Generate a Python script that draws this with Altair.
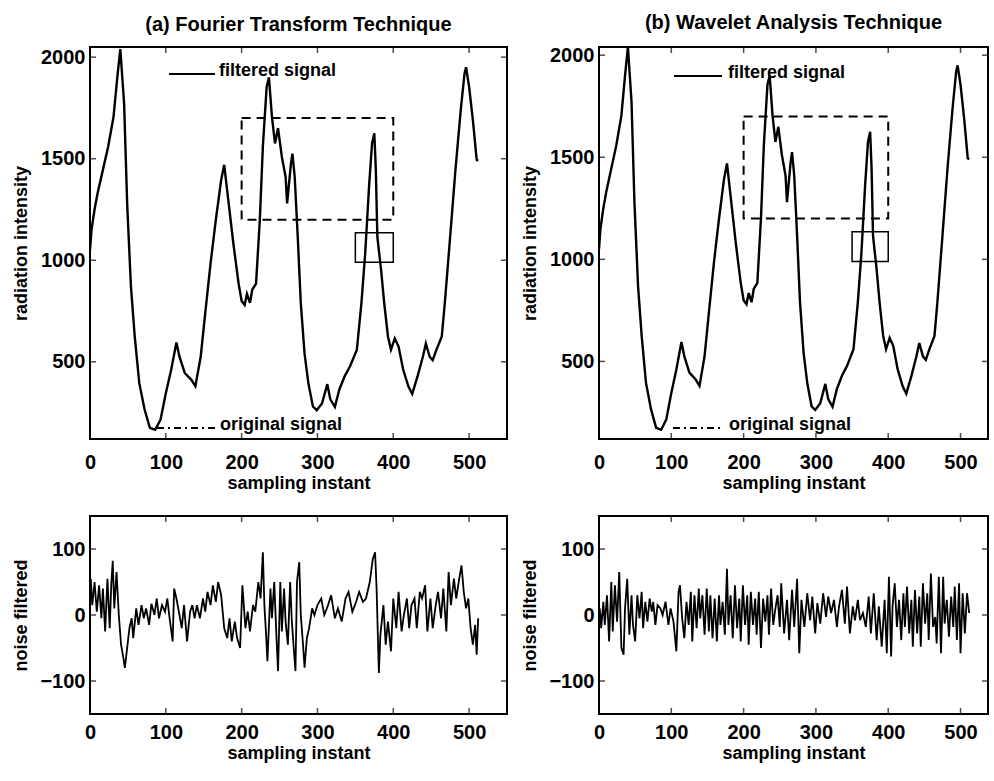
import altair as alt
import pandas as pd

FONT = "Liberation Sans"

# ---------------- data ----------------
# radiation intensity signal (sampling instant, value)
sig_x = [0, 2, 6, 10, 17, 24, 31, 36, 40, 45,
         49, 54, 59, 65, 72, 79, 86, 93, 100, 107,
         114, 118, 125, 134, 139, 146, 152, 159, 166, 173,
         177, 182, 189, 196, 200, 204, 207, 211, 214, 219,
         224, 228, 233, 236, 240, 244, 248, 253, 258, 260,
         265, 267, 270, 274, 278, 283, 288, 294, 299, 306,
         313, 317, 323, 329, 336, 343, 352, 358, 363, 368,
         372, 375, 377, 379, 384, 388, 393, 397, 402, 407,
         413, 420, 425, 432, 439, 443, 448, 452, 457, 464,
         468, 475, 482, 489, 494, 496, 500, 505, 510, 512]
sig_y = [1050, 1150, 1250, 1330, 1445, 1560, 1705, 1900, 2040, 1770,
         1280, 870, 625, 395, 265, 175, 165, 215, 345, 460,
         595, 525, 445, 410, 380, 525, 740, 985, 1200, 1395,
         1470, 1310, 1085, 885, 800, 780, 835, 790, 855, 885,
         1200, 1560, 1855, 1900, 1705, 1575, 1650, 1510, 1410, 1280,
         1475, 1525, 1410, 1115, 790, 540, 395, 280, 262, 295,
         390, 315, 278, 365, 430, 478, 560, 790, 1035, 1360,
         1575, 1625, 1445, 1115, 950, 790, 625, 560, 615, 575,
         462, 378, 342, 428, 525, 590, 525, 508, 560, 625,
         790, 1115, 1445, 1740, 1920, 1950, 1855, 1690, 1495, 1490]

# noise removed by the Fourier technique
fourier_noise = [
    (1, 55), (3, 15), (6, 50), (9, 5), (12, 45), (15, -5), (17, 40), (20, -25), (23, 55), (26, -20),
    (28, 45), (30, 82), (32, 10), (35, 65), (38, 0), (41, -45), (44, -65), (46, -80), (48, -60), (52, -20),
    (55, -5), (57, -35), (61, 10), (64, -15), (68, 15), (71, -5), (74, 10), (78, -15), (81, 17), (85, 0),
    (88, 25), (91, -5), (95, 15), (99, 5), (102, 25), (105, -5), (109, -40), (111, 40), (114, 25), (118, 0),
    (121, -20), (124, 15), (128, -40), (132, 5), (135, 15), (138, -5), (141, 15), (145, -5), (149, 25), (152, 5),
    (155, 35), (159, 15), (162, 45), (166, 20), (169, 50), (173, 30), (175, 5), (177, -20), (181, -35), (184, -5),
    (187, -40), (191, -10), (194, -35), (198, -50), (201, 45), (205, -20), (208, 5), (211, -25), (215, 15), (218, 5),
    (222, 50), (225, 25), (228, 95), (230, 15), (232, -25), (234, -70), (238, 40), (240, -5), (243, 50), (246, -35),
    (248, -85), (251, 50), (253, -25), (256, 40), (258, -10), (261, -45), (264, 50), (266, -5), (269, -55), (271, -85),
    (273, 50), (276, 80), (278, 0), (281, -45), (283, -80), (286, -35), (289, -20), (291, -5), (293, 10), (296, 0),
    (300, 15), (305, 25), (309, 0), (314, 15), (318, 30), (323, -5), (327, 10), (332, -10), (337, 25), (341, 35),
    (346, 5), (351, 20), (355, 35), (360, 20), (364, 25), (369, 50), (373, 85), (376, 95), (378, 40), (381, -88),
    (383, -30), (387, 15), (390, -45), (393, -10), (397, -55), (400, 25), (404, -20), (407, 35), (411, -25), (414, 0),
    (418, 25), (421, -20), (424, 15), (428, 25), (431, -20), (435, 35), (438, 25), (442, 45), (445, -25), (449, 25),
    (452, -20), (456, 15), (459, 35), (463, -5), (466, 40), (470, -25), (473, 65), (476, 15), (480, 55), (483, 25),
    (487, 55), (490, 75), (493, 35), (496, 10), (499, 25), (502, -20), (505, -45), (508, -15), (510, -60), (512, -5),
]

# noise removed by the wavelet technique
wavelet_noise = [
    (1, 10), (3, -20), (6, 20), (8, -15), (11, 30), (14, -40), (17, 50), (19, -25), (22, 45), (25, -10),
    (28, 65), (31, -50), (34, -60), (36, 10), (39, 55), (42, -30), (45, 30), (47, -15), (50, -40), (53, 30),
    (56, -5), (59, 35), (61, -20), (64, 20), (67, -10), (70, 25), (73, 5), (75, 20), (78, -15), (81, 15),
    (85, 10), (88, 0), (92, 20), (96, -15), (99, 10), (103, -10), (107, -55), (110, 35), (112, 45), (115, -5),
    (118, -35), (121, 20), (124, -15), (127, 35), (129, -40), (132, 30), (135, -20), (138, 40), (140, -5), (143, 30),
    (146, -30), (149, 40), (152, -25), (154, 30), (157, -35), (160, 25), (163, -40), (166, 30), (168, -15), (171, 20),
    (174, -30), (177, 70), (179, -15), (182, 30), (185, -35), (188, 45), (191, -20), (194, 25), (196, -40), (199, 45),
    (202, -15), (205, 30), (207, -45), (210, 35), (213, -15), (216, 25), (218, -30), (221, 35), (224, -50), (227, 25),
    (230, -10), (233, 30), (235, -30), (238, 40), (241, -15), (244, 10), (247, 30), (250, -18), (252, 48), (256, -28),
    (260, 23), (263, -38), (267, 38), (270, -18), (274, 55), (277, -58), (280, 23), (284, -18), (288, 33), (292, -8),
    (295, 28), (299, -28), (302, 18), (306, -13), (310, 33), (314, -3), (317, 28), (321, 3), (325, 23), (329, -18),
    (332, 13), (336, 38), (340, -13), (343, 43), (347, -28), (351, 13), (354, -8), (358, 23), (361, -8), (365, 3),
    (369, -18), (373, 28), (376, -28), (380, 33), (384, -38), (387, 13), (391, -48), (395, 23), (398, -58), (401, 58),
    (404, -63), (406, 13), (409, 48), (412, -18), (415, 23), (418, -38), (421, 33), (423, -18), (426, 43), (429, -28),
    (432, 23), (434, -48), (437, 38), (440, -28), (443, 28), (445, -48), (448, 48), (451, -13), (454, 33), (456, -38),
    (459, 63), (462, -18), (465, -3), (467, -43), (470, 58), (473, -58), (476, 58), (478, -13), (481, 23), (484, -33),
    (487, 28), (490, -18), (492, 43), (495, -38), (498, 48), (500, -58), (503, 33), (506, -28), (509, 33), (512, 3),
]

# dashed zoom boxes (data units)
big_box = {"x0": [200], "x1": [400], "y0": [1200], "y1": [1700]}
small_box = {"x0": [350], "x1": [400], "y0": [990], "y1": [1135]}

x_ticks = [0, 100, 200, 300, 400, 500]
sig_ticks = [500, 1000, 1500, 2000]
noise_ticks = [-100, 0, 100]

panel_titles = ["(a) Fourier Transform Technique", "(b) Wavelet Analysis Technique"]
legend_filtered = "filtered signal"
legend_original = "original signal"

# ---------------- helpers ----------------
sig_df = pd.DataFrame({"x": sig_x, "y": sig_y})


def x_axis(pad):
    return alt.Axis(values=x_ticks, format="d", title="sampling instant", grid=False, domain=False,
                    ticks=False, labelPadding=pad, titlePadding=2, labelFlush=False)


def y_axis(values, title):
    return alt.Axis(values=values, format="d", title=title, grid=False, domain=False, ticks=False,
                    labelPadding=5, minExtent=50, maxExtent=50, titlePadding=10)


def inward_ticks(xs, ys, xax, yax, xvals, yvals, w, h):
    """MATLAB-style ticks pointing into the plot on all four sides."""
    xt = pd.DataFrame({"tx": xvals})
    yt = pd.DataFrame({"ty": yvals})
    layers = []
    for ypix in (h - 3, 3):
        layers.append(alt.Chart(xt).mark_tick(color="black", thickness=1.5, size=6).encode(
            x=alt.X("tx:Q", scale=xs, axis=xax), y=alt.value(ypix)))
    for xpix in (3, w - 3):
        layers.append(alt.Chart(yt).mark_tick(color="black", thickness=1.5, size=6).encode(
            y=alt.Y("ty:Q", scale=ys, axis=yax), x=alt.value(xpix)))
    return layers


def top_panel(title, xmax, ymax, w, h, leg):
    xs = alt.Scale(domain=[0, xmax], nice=False, zero=False)
    ys = alt.Scale(domain=[120, ymax], nice=False, zero=False)
    xax = x_axis(13)
    yax = y_axis(sig_ticks, "radiation intensity")
    line = alt.Chart(sig_df).mark_line(color="black", strokeWidth=2.4, clip=True).encode(
        x=alt.X("x:Q", scale=xs, axis=xax),
        y=alt.Y("y:Q", scale=ys, axis=yax),
    )
    big = alt.Chart(pd.DataFrame(big_box)).mark_rect(
        fillOpacity=0, stroke="black", strokeWidth=2, strokeDash=[9, 6]).encode(
        x=alt.X("x0:Q", scale=xs, axis=xax), x2="x1:Q",
        y=alt.Y("y0:Q", scale=ys, axis=yax), y2="y1:Q")
    small = alt.Chart(pd.DataFrame(small_box)).mark_rect(
        fillOpacity=0, stroke="black", strokeWidth=1.5).encode(
        x=alt.X("x0:Q", scale=xs, axis=xax), x2="x1:Q",
        y=alt.Y("y0:Q", scale=ys, axis=yax), y2="y1:Q")
    lx0, lx1, ly, tx, ox0, ox1, oy, otx = leg
    l1 = alt.Chart(pd.DataFrame({"t": [legend_filtered]})).mark_rule(
        color="black", strokeWidth=2).encode(x=alt.value(lx0), x2=alt.value(lx1), y=alt.value(ly))
    t1 = alt.Chart(pd.DataFrame({"t": [legend_filtered]})).mark_text(
        align="left", baseline="middle", font=FONT, fontSize=18, fontWeight="bold").encode(
        x=alt.value(tx), y=alt.value(ly - 3), text="t:N")
    l2 = alt.Chart(pd.DataFrame({"t": [legend_original]})).mark_rule(
        color="black", strokeWidth=2, strokeDash=[7, 4, 2, 4]).encode(
        x=alt.value(ox0), x2=alt.value(ox1), y=alt.value(oy))
    t2 = alt.Chart(pd.DataFrame({"t": [legend_original]})).mark_text(
        align="left", baseline="middle", font=FONT, fontSize=18, fontWeight="bold").encode(
        x=alt.value(otx), y=alt.value(oy - 3), text="t:N")
    ticks = inward_ticks(xs, ys, xax, yax, x_ticks, sig_ticks, w, h)
    return alt.layer(line, big, small, l1, t1, l2, t2, *ticks).properties(
        width=w, height=h,
        title=alt.TitleParams(title, font=FONT, fontSize=20, fontWeight="bold",
                              anchor="middle", offset=12))


def noise_panel(pairs, xmax, w, h):
    df = pd.DataFrame(pairs, columns=["x", "y"])
    xs = alt.Scale(domain=[0, xmax], nice=False, zero=False)
    ys = alt.Scale(domain=[-150, 150], nice=False, zero=False)
    xax = x_axis(8)
    yax = y_axis(noise_ticks, "noise filtered")
    line = alt.Chart(df).mark_line(color="black", strokeWidth=1.8, clip=True).encode(
        x=alt.X("x:Q", scale=xs, axis=xax),
        y=alt.Y("y:Q", scale=ys, axis=yax),
    )
    ticks = inward_ticks(xs, ys, xax, yax, x_ticks, noise_ticks, w, h)
    return alt.layer(line, *ticks).properties(width=w, height=h)


tl = top_panel(panel_titles[0], 550, 2050, 417, 392,
               (79, 125, 27, 129, 67, 125, 381, 130))
tr = top_panel(panel_titles[1], 538, 2040, 389, 392,
               (75, 123, 29, 129, 74, 124, 381, 130))
bl = noise_panel(fourier_noise, 550, 417, 198)
br = noise_panel(wavelet_noise, 538, 389, 198)

chart = alt.vconcat(
    alt.hconcat(tl, tr, spacing=12),
    alt.hconcat(bl, br, spacing=12),
    spacing=22,
).properties(
    padding={"left": 11, "top": 12, "right": 0, "bottom": 0},
    background="white",
).configure_view(
    stroke="black", strokeWidth=2,
).configure_axis(
    labelFont=FONT, labelFontSize=20, labelFontWeight="bold", labelColor="black",
    titleFont=FONT, titleFontSize=18, titleFontWeight="bold", titleColor="black",
)

chart.save("out.html", embed_options={"renderer": "svg", "actions": False})
